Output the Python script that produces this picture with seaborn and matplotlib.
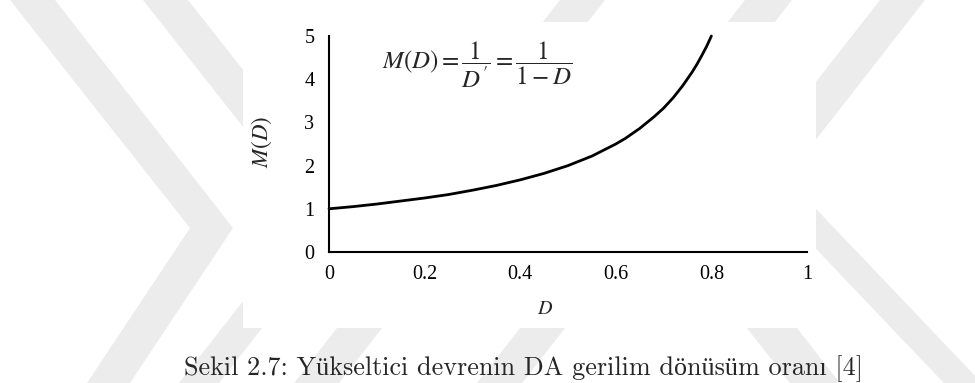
import matplotlib
matplotlib.use('Agg')
import matplotlib.pyplot as plt
from matplotlib.patches import Polygon, Rectangle
import seaborn as sns

# Values
duty = [0.0, 0.05, 0.1, 0.15, 0.2, 0.25, 0.3, 0.35, 0.4, 0.45, 0.5, 0.55,
        0.6, 0.62, 0.65, 0.68, 0.7, 0.72, 0.74, 0.76, 0.77, 0.78, 0.79, 0.8]
gain = [1.0, 1.05, 1.11, 1.18, 1.25, 1.33, 1.43, 1.54, 1.67, 1.82, 2.0, 2.22,
        2.5, 2.63, 2.86, 3.13, 3.33, 3.57, 3.85, 4.17, 4.35, 4.55, 4.76, 5.0]

x_ticks = [0, 0.2, 0.4, 0.6, 0.8, 1]
x_ticklabels = ['0', '0.2', '0.4', '0.6', '0.8', '1']
y_ticks = [0, 1, 2, 3, 4, 5]
y_ticklabels = ['0', '1', '2', '3', '4', '5']

formula = r"$M(D) = \dfrac{1}{D'} = \dfrac{1}{1 - D}$"
caption = 'Sekil 2.7: Yükseltici devrenin DA gerilim dönüsüm oranı [4]'

W, H = 975, 383

sns.set_style('white')
plt.rcParams['font.family'] = ['Liberation Serif', 'DejaVu Serif']
plt.rcParams['mathtext.fontset'] = 'stix'


def fx(x):
    return x / W


def fy(y):
    return 1 - y / H


fig = plt.figure(figsize=(W / 100, H / 100), dpi=100)
fig.patch.set_facecolor('white')

# watermark stripes behind the scanned figure (pixel coords, y down)
grey = '#ececec'
bands = [
    [(10, 0), (55, 0), (233, 228), (130, 383), (87, 383), (190, 228)],
    [(143, 0), (188, 0), (300, 142), (255, 142)],
    [(560, 0), (605, 0), (558, 60), (513, 60)],
    [(745, 0), (792, 0), (745, 60), (698, 60)],
    [(880, 0), (925, 0), (800, 160), (755, 160)],
    [(780, 171), (1000, 402), (1000, 442), (780, 211)],
    [(244, 300), (284, 300), (219, 383), (179, 383)],
    [(359, 300), (404, 300), (339, 383), (294, 383)],
    [(542, 300), (587, 300), (522, 383), (477, 383)],
    [(725, 300), (775, 300), (840, 383), (790, 383)],
]
for b in bands:
    fig.patches.append(Polygon([(fx(x), fy(y)) for x, y in b], closed=True,
                               transform=fig.transFigure, facecolor=grey,
                               edgecolor='none', zorder=-3))

# white area of the scanned plot
fig.patches.append(Rectangle((fx(243), fy(328)), (816 - 243) / W, (328 - 22) / H,
                             transform=fig.transFigure, facecolor='white',
                             edgecolor='none', zorder=-2))

ax = fig.add_axes([fx(329), fy(252), (807 - 329) / W, (252 - 36) / H])
ax.set_facecolor('none')
ax.set_zorder(1)

sns.lineplot(x=duty, y=gain, ax=ax, color='black', linewidth=2.0,
             estimator=None, sort=False)
for line in ax.lines:
    line.set_clip_on(False)

ax.set_xlim(0, 1)
ax.set_ylim(0, 5)
ax.set_xticks(x_ticks)
ax.set_xticklabels(x_ticklabels)
ax.set_yticks(y_ticks)
ax.set_yticklabels(y_ticklabels)
ax.set_xlabel('')
ax.set_ylabel('')

for s in ['top', 'right']:
    ax.spines[s].set_visible(False)
for s in ['left', 'bottom']:
    ax.spines[s].set_linewidth(1.5)
    ax.spines[s].set_color('black')

ax.tick_params(direction='inout', length=7, width=1.2, colors='black',
               labelsize=14.5)
ax.tick_params(axis='x', pad=6)
ax.tick_params(axis='y', pad=7)

t_formula = fig.text(fx(477), fy(65), formula, fontsize=18,
                     ha='center', va='center')
fig.text(fx(262), fy(142), r'$M(D)$', fontsize=16.5, rotation=90,
         ha='center', va='center')
fig.text(fx(545), fy(310), r'$D$', fontsize=14.5, ha='center', va='center')
t_caption = fig.text(fx(523), fy(375), caption, fontsize=18, ha='center',
                     va='baseline', family=['cmr10', 'Liberation Serif'])

# size the two long texts to the widths measured on the reference
renderer = fig.canvas.get_renderer()
for t, target in [(t_formula, 191), (t_caption, 680)]:
    w = t.get_window_extent(renderer).width
    t.set_fontsize(t.get_fontsize() * target / w)

fig.savefig('out.png', dpi=100, facecolor='white')
